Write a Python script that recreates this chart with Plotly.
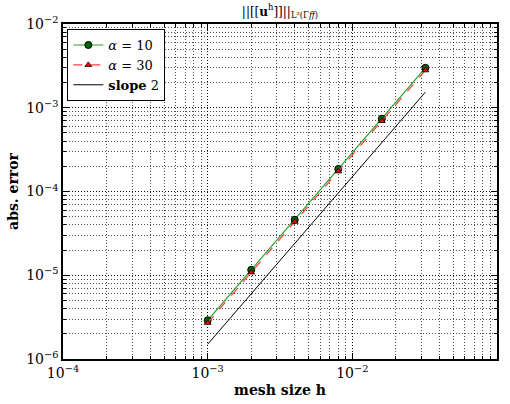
import plotly.graph_objects as go

h = [1e-3, 2e-3, 4e-3, 8e-3, 1.6e-2, 3.2e-2]
err_a10 = [2.9e-6, 1.16e-5, 4.6e-5, 1.86e-4, 7.4e-4, 3.0e-3]
err_a30 = [2.7e-6, 1.08e-5, 4.35e-5, 1.74e-4, 6.95e-4, 2.8e-3]
slope_ref = [1.5e-6, 6.0e-6, 2.4e-5, 9.6e-5, 3.84e-4, 1.536e-3]

x_ticks = [1e-4, 1e-3, 1e-2, 1e-1]
x_text = ["10<sup>−4</sup>", "10<sup>−3</sup>", "10<sup>−2</sup>", "10<sup>−1</sup>"]
y_ticks = [1e-6, 1e-5, 1e-4, 1e-3, 1e-2]
y_text = ["10<sup>−6</sup>", "10<sup>−5</sup>", "10<sup>−4</sup>", "10<sup>−3</sup>", "10<sup>−2</sup>"]

FONT = "DejaVu Serif"

fig = go.Figure()
fig.add_trace(go.Scatter(
    x=h, y=err_a10, mode="lines+markers", name="<i>α</i> = 10",
    line=dict(color="#2ca02c", width=1.2),
    marker=dict(symbol="circle", size=7, color="#006400", line=dict(color="black", width=1)),
))
fig.add_trace(go.Scatter(
    x=h, y=err_a30, mode="lines+markers", name="<i>α</i> = 30",
    line=dict(color="#ff4040", width=1.2, dash="dash"),
    marker=dict(symbol="triangle-up", size=6, color="red", line=dict(color="black", width=0.8)),
))
fig.add_trace(go.Scatter(
    x=h, y=slope_ref, mode="lines", name="<b>slope</b> 2",
    line=dict(color="black", width=1),
))

def axis_common():
    return dict(
        type="log", showline=True, linecolor="black", linewidth=1.5, mirror="ticks",
        ticks="inside", ticklen=6, tickcolor="black", automargin=False,
        showgrid=True, gridcolor="rgba(0,0,0,0.85)", griddash="1px,2px", gridwidth=1,
        zeroline=False,
        tickfont=dict(family=FONT, size=14, color="black"),
        minor=dict(dtick="D1", ticks="inside", ticklen=3, tickcolor="black", showgrid=True,
                   gridcolor="rgba(0,0,0,0.7)", griddash="1px,2px", gridwidth=1),
    )

fig.update_layout(
    width=510, height=404,
    margin=dict(l=63, r=13, t=24, b=45),
    paper_bgcolor="white", plot_bgcolor="white",
    font=dict(family=FONT, color="black"),
    title=dict(text="||[[<b>u</b><sup>h</sup>]]||<sub>L²(Γ<i>ff</i>)</sub>",
               x=0.549, xanchor="center", y=0.972, yanchor="middle",
               font=dict(family=FONT, size=12, color="black")),
    xaxis=dict(range=[-4, -1], tickvals=x_ticks, ticktext=x_text,
               title=dict(text="<b>mesh size h</b>", font=dict(family=FONT, size=14), standoff=6),
               **axis_common()),
    yaxis=dict(range=[-6, -2], tickvals=y_ticks, ticktext=y_text,
               title=dict(text="<b>abs. error</b>", font=dict(family=FONT, size=14), standoff=4),
               **axis_common()),
    legend=dict(x=0.01, y=0.985, xanchor="left", yanchor="top",
                bgcolor="white", bordercolor="black", borderwidth=1,
                font=dict(family=FONT, size=13, color="black"),
                tracegroupgap=0, itemwidth=30),
    showlegend=True,
)

fig.write_html("out.html", config={"displayModeBar": False},
               post_script="document.body.style.margin='0';document.body.style.padding='0';")
